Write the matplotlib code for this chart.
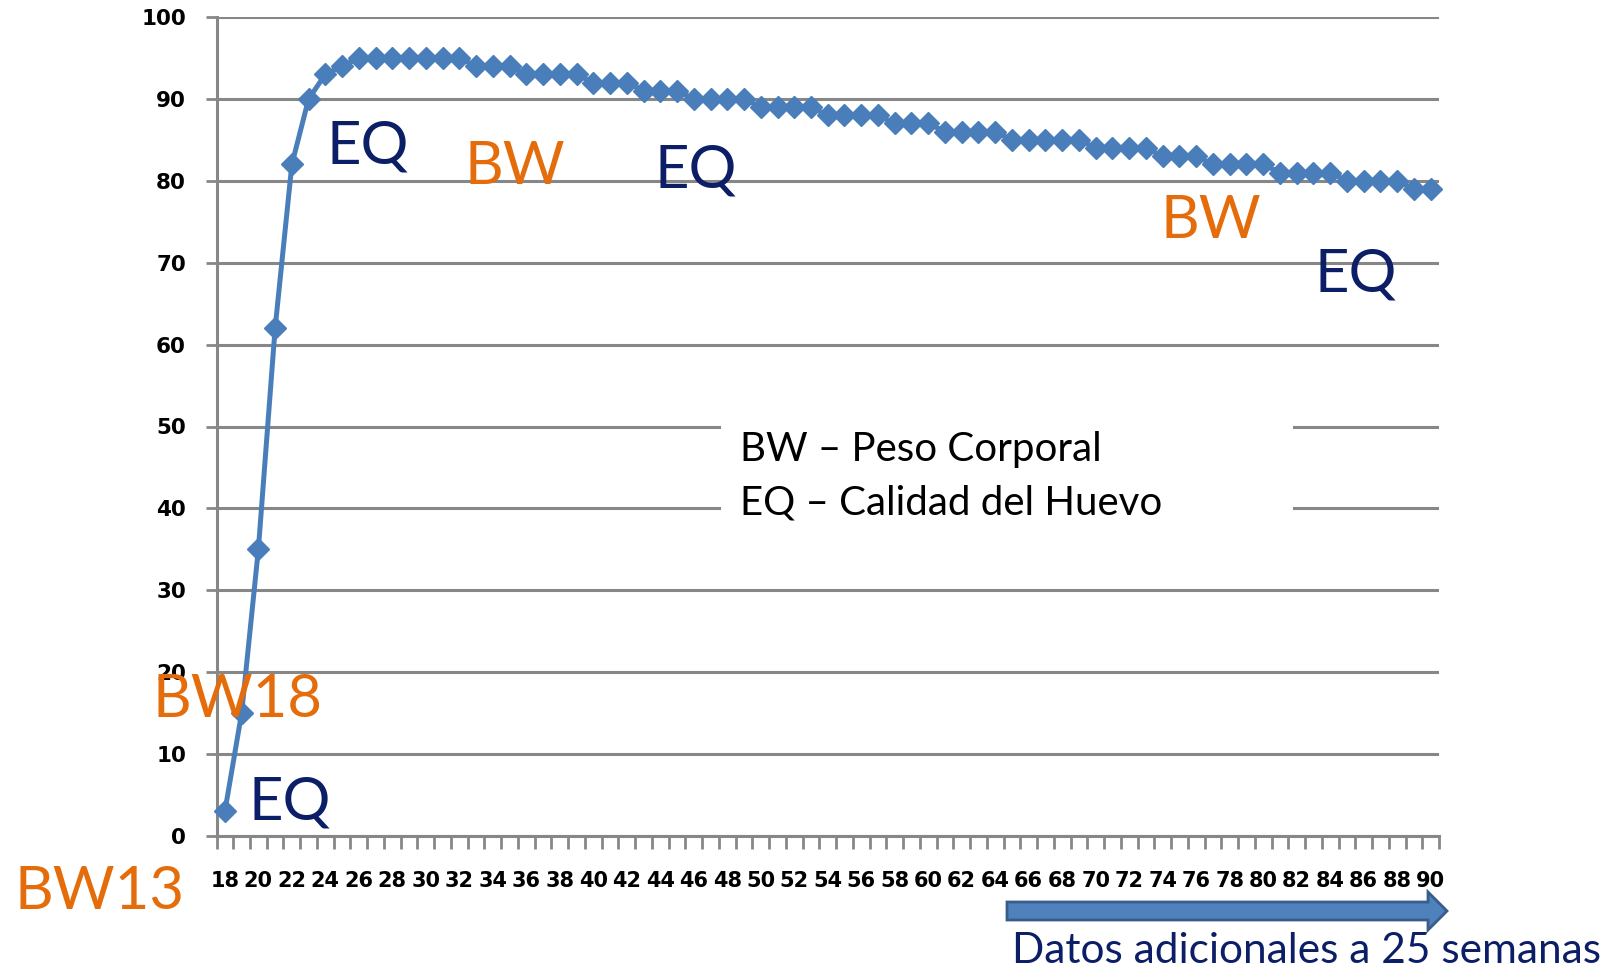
import matplotlib
matplotlib.use('Agg')
import matplotlib.pyplot as plt
from matplotlib.patches import Polygon, Rectangle
import numpy as np

W, H = 1612, 965

# semanas de edad y % de produccion
semanas = list(range(18, 91))
produccion = [3, 15, 35, 62, 82, 90, 93, 94,
              95, 95, 95, 95, 95, 95, 95,
              94, 94, 94,
              93, 93, 93, 93,
              92, 92, 92,
              91, 91, 91,
              90, 90, 90, 90,
              89, 89, 89, 89,
              88, 88, 88, 88,
              87, 87, 87,
              86, 86, 86, 86,
              85, 85, 85, 85, 85,
              84, 84, 84, 84,
              83, 83, 83,
              82, 82, 82, 82,
              81, 81, 81, 81,
              80, 80, 80, 80,
              79, 79]
y_ticks = list(range(0, 101, 10))

# etiquetas de texto (texto, color, x px, y px)
naranja = '#E46C0A'
azul_osc = '#0C1F66'
etiquetas = [
    ('EQ', azul_osc, 326, 146),
    ('BW', naranja, 464, 167),
    ('EQ', azul_osc, 654, 170),
    ('BW', naranja, 1161, 221),
    ('EQ', azul_osc, 1315, 274),
    ('BW18', naranja, 153, 700),
    ('EQ', azul_osc, 249, 802),
    ('BW13', naranja, 14, 892),
]
leyenda = ['BW \u2013 Peso Corporal', 'EQ \u2013 Calidad del Huevo']


def fx(x):
    return x / W


def fy(y):
    return 1 - y / H


fig = plt.figure(figsize=(W / 100, H / 100), dpi=100)
ax = fig.add_axes([fx(216.5), fy(836), fx(1439) - fx(216.5), fy(17) - fy(836)])

gris = '#878787'
pos = np.arange(len(semanas))
ax.plot(pos, produccion, color='#4A7EBB', lw=3.6, marker='D', ms=11,
        mec='#4A7EBB', mfc='#4A7EBB', zorder=4, clip_on=False)

ax.set_xlim(-0.5, len(semanas) - 0.5)
ax.set_ylim(0, 100)
ax.set_yticks(y_ticks)
ax.set_yticklabels([str(v) for v in y_ticks], fontsize=15.5, fontweight='bold',
                   family='DejaVu Sans')
ax.yaxis.grid(True, color=gris, lw=2.2, zorder=1)
ax.set_axisbelow(True)

# marcas entre categorias, etiquetas cada dos semanas
ax.set_xticks(np.arange(-0.5, len(semanas), 1.0))
ax.set_xticklabels([])
lab_pos = [i for i, s in enumerate(semanas) if s % 2 == 0]
ax.set_xticks(lab_pos, minor=True)
ax.set_xticklabels([str(semanas[i]) for i in lab_pos], minor=True,
                   fontsize=15, fontweight='bold', family='DejaVu Sans')
ax.tick_params(axis='x', which='major', length=9, width=2, color=gris, direction='out')
ax.tick_params(axis='x', which='minor', length=0, pad=25)
ax.tick_params(axis='y', length=8, width=2, color=gris, pad=14)

for s in ['top', 'right']:
    ax.spines[s].set_visible(False)
for s in ['left', 'bottom']:
    ax.spines[s].set_color(gris)
    ax.spines[s].set_linewidth(2.2)

# caja blanca de la leyenda sobre las lineas de cuadricula
ax.add_patch(Rectangle((29.6, 33), 63.8 - 29.6, 23, facecolor='white',
                       edgecolor='none', zorder=2))

for txt, col, x, y in etiquetas:
    fig.text(fx(x), fy(y), txt, color=col, fontsize=43, family='Lato',
             ha='left', va='center')

fig.text(fx(740), fy(450), leyenda[0], color='black', fontsize=29,
         family='Lato', ha='left', va='center')
fig.text(fx(740), fy(503), leyenda[1], color='black', fontsize=29,
         family='Lato', ha='left', va='center')

# flecha de datos adicionales
flecha = [(1007, 902), (1428, 902), (1428, 892), (1447, 911), (1428, 930),
          (1428, 920), (1007, 920)]
fig.add_artist(Polygon([(fx(a), fy(b)) for a, b in flecha], closed=True,
                       facecolor='#4F81BD', edgecolor='#385D8A', lw=2,
                       transform=fig.transFigure))

fig.text(fx(1012), fy(963), 'Datos adicionales a 25 semanas', color=azul_osc,
         fontsize=30.5, family='Lato', ha='left', va='baseline')

fig.savefig('out.png', dpi=100)
